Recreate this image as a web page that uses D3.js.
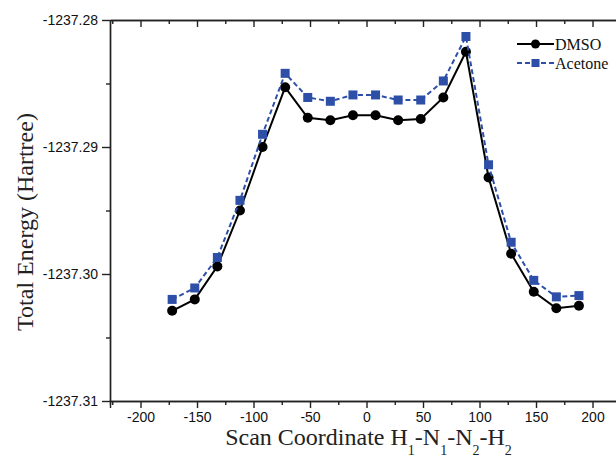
<!DOCTYPE html>
<html>
<head>
<meta charset="utf-8">
<script src="https://cdn.jsdelivr.net/npm/d3@7"></script>
<style>
  body { margin: 0; background: #fff; }
  .tick text { font-family: "Liberation Sans", Arial, sans-serif; font-size: 14px; fill: #111; }
  .axis path, .axis line { stroke: #222; stroke-width: 1.4; }
</style>
</head>
<body>
<svg id="chart" width="616" height="463"></svg>
<script>
// scan coordinate (degrees)
var scanAngle = [-172, -152, -132, -112, -92, -72, -52, -32, -12, 8, 28, 48, 68, 88, 108, 128, 148, 168, 188];
// total energy (Hartree)
var dmsoEnergy = [-1237.3029, -1237.3020, -1237.2994, -1237.2950, -1237.2900, -1237.2853, -1237.2877, -1237.2879, -1237.2875,
	-1237.2875, -1237.2879, -1237.2878, -1237.2861, -1237.2825, -1237.2924, -1237.2984, -1237.3014, -1237.3027, -1237.3025];
var acetoneEnergy = [-1237.3020, -1237.3011, -1237.2987, -1237.2942, -1237.2890, -1237.2842, -1237.2861, -1237.2864, -1237.2859,
	-1237.2859, -1237.2863, -1237.2863, -1237.2848, -1237.2813, -1237.2914, -1237.2975, -1237.3005, -1237.3018, -1237.3017];
var seriesNames = ["DMSO", "Acetone"];
var xTicks = [-200, -150, -100, -50, 0, 50, 100, 150, 200];
var xMinorTicks = [-225, -175, -125, -75, -25, 25, 75, 125, 175, 225];
var yTicks = [-1237.28, -1237.29, -1237.30, -1237.31];
var yMinorTicks = [-1237.285, -1237.295, -1237.305];

(function () {
	var svg = d3.select("#chart");
	var left = 110, top = 20, bottom = 401;

	var xScale = d3.scaleLinear()
		.domain([-227, 227])
		.range([left, left + 454 * 1.13]);

	var yScale = d3.scaleLinear()
		.domain([-1237.31, -1237.28])
		.range([bottom, top]);

	// plain hyphen for negatives, like the original
	var loc = d3.formatLocale({decimal: ".", thousands: ",", grouping: [3], currency: ["", ""], minus: "-"});
	var fmtY = loc.format(".2f");
	var fmtX = loc.format("d");

	// bottom axis
	svg.append("g")
		.attr("class", "axis")
		.attr("transform", "translate(0," + bottom + ")")
		.call(d3.axisBottom(xScale).tickValues(xTicks).tickSize(7).tickPadding(4).tickFormat(fmtX));
	svg.append("g")
		.attr("class", "axis")
		.attr("transform", "translate(0," + bottom + ")")
		.call(d3.axisBottom(xScale).tickValues(xMinorTicks).tickSize(4).tickFormat(""));

	// top mirror axis (ticks inward)
	svg.append("g")
		.attr("class", "axis")
		.attr("transform", "translate(0," + top + ")")
		.call(d3.axisBottom(xScale).tickValues(xTicks).tickSize(7).tickFormat("").tickSizeOuter(0));
	svg.append("g")
		.attr("class", "axis")
		.attr("transform", "translate(0," + top + ")")
		.call(d3.axisBottom(xScale).tickValues(xMinorTicks).tickSize(4).tickFormat("").tickSizeOuter(0));

	// left axis
	svg.append("g")
		.attr("class", "axis")
		.attr("transform", "translate(" + left + ",0)")
		.call(d3.axisLeft(yScale).tickValues(yTicks).tickSize(8).tickSizeOuter(0).tickPadding(4).tickFormat(fmtY));
	svg.append("g")
		.attr("class", "axis")
		.attr("transform", "translate(" + left + ",0)")
		.call(d3.axisLeft(yScale).tickValues(yMinorTicks).tickSize(4).tickSizeOuter(0).tickFormat(""));

	// axis titles
	svg.append("text")
		.attr("transform", "translate(33,222) rotate(-90)")
		.attr("text-anchor", "middle")
		.style("font-family", "'Liberation Serif', 'Times New Roman', serif")
		.style("font-size", "24px")
		.attr("fill", "#222")
		.text("Total Energy (Hartree)");

	var xt = svg.append("text")
		.attr("x", xScale(0) + 2)
		.attr("y", 455)
		.attr("text-anchor", "middle")
		.style("font-family", "'Liberation Serif', 'Times New Roman', serif")
		.style("font-size", "24px")
		.attr("fill", "#222");
	var parts = [["Scan Coordinate H", "1"], ["-N", "1"], ["-N", "2"], ["-H", "2"]];
	parts.forEach(function (p) {
		xt.append("tspan").attr("dy", xt.selectAll("tspan").size() ? -10 : 0).text(p[0]);
		xt.append("tspan").attr("dy", 10).style("font-size", "14px").text(p[1]);
	});

	var dmso = scanAngle.map(function (d, i) { return {x: d, y: dmsoEnergy[i]}; });
	var acetone = scanAngle.map(function (d, i) { return {x: d, y: acetoneEnergy[i]}; });

	var line = d3.line()
		.x(function (d) { return xScale(d.x); })
		.y(function (d) { return yScale(d.y); });

	var blue = "#2d4fa8";

	// DMSO
	svg.append("path")
		.datum(dmso)
		.attr("fill", "none")
		.attr("stroke", "#000")
		.attr("stroke-width", 2)
		.attr("d", line);
	svg.selectAll(".dot")
		.data(dmso)
		.enter().append("circle")
		.attr("class", "dot")
		.attr("cx", function (d) { return xScale(d.x); })
		.attr("cy", function (d) { return yScale(d.y); })
		.attr("r", 5)
		.attr("fill", "#000");

	// Acetone
	svg.append("path")
		.datum(acetone)
		.attr("fill", "none")
		.attr("stroke", blue)
		.attr("stroke-width", 2)
		.attr("stroke-dasharray", "5,3")
		.attr("d", line);
	svg.selectAll(".sq")
		.data(acetone)
		.enter().append("rect")
		.attr("class", "sq")
		.attr("x", function (d) { return xScale(d.x) - 4.5; })
		.attr("y", function (d) { return yScale(d.y) - 4.5; })
		.attr("width", 9)
		.attr("height", 9)
		.attr("fill", blue);

	// legend
	var lg = svg.append("g");
	var ly = [44, 63];
	lg.append("line").attr("x1", 517).attr("x2", 554).attr("y1", ly[0]).attr("y2", ly[0])
		.attr("stroke", "#000").attr("stroke-width", 2);
	lg.append("circle").attr("cx", 535.5).attr("cy", ly[0]).attr("r", 4.5).attr("fill", "#000");
	lg.append("line").attr("x1", 517).attr("x2", 554).attr("y1", ly[1]).attr("y2", ly[1])
		.attr("stroke", blue).attr("stroke-width", 2).attr("stroke-dasharray", "5,3");
	lg.append("rect").attr("x", 531.5).attr("y", ly[1] - 4).attr("width", 8).attr("height", 8).attr("fill", blue);
	lg.selectAll(".lt")
		.data(seriesNames)
		.enter().append("text")
		.attr("x", 555)
		.attr("y", function (d, i) { return ly[i] + 5.5; })
		.style("font-family", "'Liberation Serif', 'Times New Roman', serif")
		.style("font-size", "16px")
		.attr("fill", "#111")
		.text(function (d) { return d; });
}) ();
</script>
</body>
</html>
